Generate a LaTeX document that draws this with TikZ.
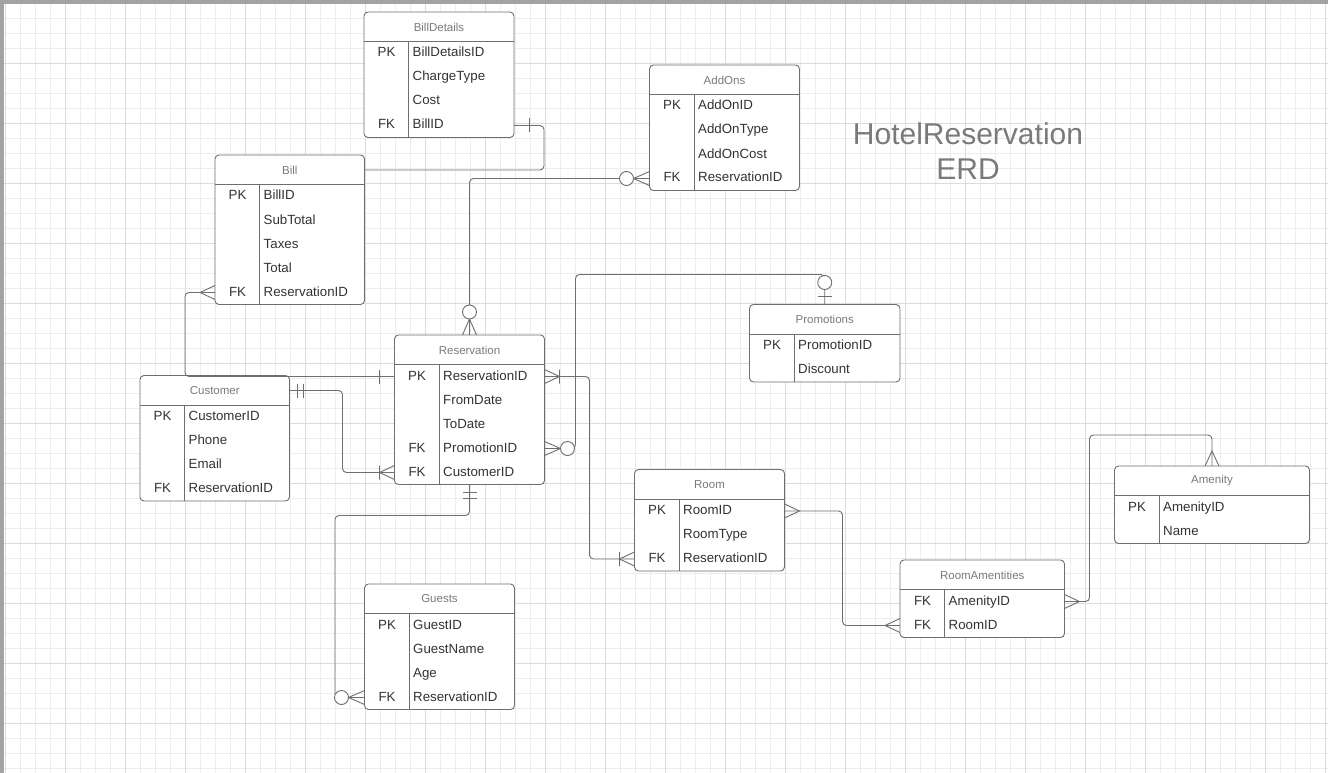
\documentclass[tikz,border=0pt]{standalone}
\usepackage{fontspec}
\setmainfont{Liberation Sans}
\usepackage{xcolor}
\definecolor{ERLine}{HTML}{6E6E6E}
\definecolor{ERText}{HTML}{333333}
\definecolor{ERHead}{HTML}{7A7A7A}
\definecolor{ERGridA}{HTML}{EDEDED}
\definecolor{ERGridB}{HTML}{DCDCDC}
\definecolor{ERFrame}{HTML}{A3A3A3}

% table: name, x, y, width, rows, title, key/field list
\newcommand{\erdtab}[7]{%
  \node[tbox,minimum width=#4pt,minimum height={(29.5+24*#5)*1pt}] (#1) at (#2,#3) {};
  \draw[tline] (#2,{#3+29.5}) -- ++(#4,0);
  \draw[tline] ({#2+44.5},{#3+29.5}) -- ({#2+44.5},{#3+29.5+24*#5});
  \node[thead] (#1-t) at ({#2+#4/2},{#3+15}) {#6};
  \foreach \k/\f [count=\i] in {#7} {
    \node[keyt] at ({#2+22.5},{#3+29.5+24*\i-12}) {\k};
    \node[fld] (#1-\i) at ({#2+48.5},{#3+29.5+24*\i-12}) {\f};
  }%
}

\begin{document}
\begin{tikzpicture}[x=1pt,y=-1pt,
  tbox/.style={draw=ERLine,line width=0.9pt,rounded corners=4pt,fill=white,inner sep=0pt,outer sep=0pt,anchor=north west},
  tline/.style={draw=ERLine,line width=0.9pt},
  thead/.style={text=ERHead,font=\fontsize{11.5}{13}\selectfont,inner sep=0pt},
  keyt/.style={text=ERText,font=\fontsize{13.3}{16}\selectfont,inner sep=0pt,text height=9.5pt,text depth=2.5pt},
  fld/.style={keyt,anchor=west},
  conn/.style={draw=ERLine,line width=0.9pt,rounded corners=4pt},
  mk/.style={draw=ERLine,line width=0.9pt},
  gminor/.style={draw=ERGridA,line width=0.8pt},
  gmajor/.style={draw=ERGridB,line width=0.8pt},
  erMany/.pic={\draw[mk] (0,-7) -- (15,0) -- (0,7);},
  erOne/.pic={\draw[mk] (15,-7) -- (15,7);},
  erOnlyOne/.pic={\draw[mk] (8,-7) -- (8,7) (14,-7) -- (14,7);},
  erOneMany/.pic={\draw[mk] (0,-7) -- (15,0) -- (0,7) (15,-7) -- (15,7);},
  erZeroMany/.pic={\draw[mk] (0,-7) -- (16,0) -- (0,7); \draw[mk,fill=white] (23,0) circle (7pt);},
  erZeroOne/.pic={\draw[mk] (8,-7) -- (8,7); \draw[mk,fill=white] (22,0) circle (7pt);}]
\useasboundingbox (0,0) rectangle (1328,773);
\fill[white] (0,0) rectangle (1328,773);
% grid paper
\foreach \gx in {5,20,...,1325} \draw[gminor] (\gx,0) -- (\gx,773);
\foreach \gy in {3,18,...,773} \draw[gminor] (0,\gy) -- (1328,\gy);
\foreach \gx in {5,65,...,1325} \draw[gmajor] (\gx,0) -- (\gx,773);
\foreach \gy in {3,63,...,773} \draw[gmajor] (0,\gy) -- (1328,\gy);
\fill[ERFrame] (0,0) rectangle (1328,4);
\fill[ERFrame] (0,0) rectangle (4,773);

\node[text=ERHead,align=center,font=\fontsize{30}{35}\selectfont] (title) at (968,151) {HotelReservation\\ERD};

% tables
\erdtab{bd}{364}{12}{150}{4}{BillDetails}{PK/BillDetailsID,{}/ChargeType,{}/Cost,FK/BillID}
\erdtab{bill}{215}{155}{149.5}{5}{Bill}{PK/BillID,{}/SubTotal,{}/Taxes,{}/Total,FK/ReservationID}
\erdtab{ao}{649.5}{65}{150}{4}{AddOns}{PK/AddOnID,{}/AddOnType,{}/AddOnCost,FK/ReservationID}
\erdtab{res}{394.5}{335}{150}{5}{Reservation}{PK/ReservationID,{}/FromDate,{}/ToDate,FK/PromotionID,FK/CustomerID}
\erdtab{cus}{140}{375.5}{149.5}{4}{Customer}{PK/CustomerID,{}/Phone,{}/Email,FK/ReservationID}
\erdtab{promo}{749.5}{304.5}{150.5}{2}{Promotions}{PK/PromotionID,{}/Discount}
\erdtab{room}{634.5}{469.5}{150}{3}{Room}{PK/RoomID,{}/RoomType,FK/ReservationID}
\erdtab{ra}{900}{560}{164.5}{2}{RoomAmentities}{FK/AmenityID,FK/RoomID}
\erdtab{am}{1114.5}{466}{195}{2}{Amenity}{PK/AmenityID,{}/Name}
\erdtab{gst}{364.5}{584}{150}{4}{Guests}{PK/GuestID,{}/GuestName,{}/Age,FK/ReservationID}

% relationships
\draw[conn] (bd.east |- bd-4) -- ++(30,0) |- (bill.east |- bill-t);
\draw[conn] (ao.west |- ao-4) -| (res.north);
\draw[conn] (bill.west |- bill-5) -- ++(-30,0) |- (res.west |- res-1);
\draw[conn] (cus.east |- cus-t) -- ++(53,0) |- (res.west |- res-5);
\draw[conn] (res.south) |- ++(-134.5,31) |- (gst.west |- gst-4);
\draw[conn] (res.east |- res-1) -- ++(45,0) |- (room.west |- room-3);
\draw[conn] (res.east |- res-4) -- ++(31,0) |- ([yshift=30pt]promo.north) -- (promo.north);
\draw[conn] (room.east |- room-1) -- ++(58,0) |- (ra.west |- ra-2);
\draw[conn] (ra.east |- ra-1) -- ++(25,0) |- ([yshift=31pt]am.north) -- (am.north);

% end marks
\pic at (bd.east |- bd-4) {erOne};
\pic[rotate=180] at (ao.west |- ao-4) {erZeroMany};
\pic[rotate=90] at (res.north) {erZeroMany};
\pic[rotate=180] at (bill.west |- bill-5) {erMany};
\pic[rotate=180] at (res.west |- res-1) {erOne};
\pic at (cus.east |- cus-t) {erOnlyOne};
\pic[rotate=180] at (res.west |- res-5) {erOneMany};
\pic[rotate=-90] at (res.south) {erOnlyOne};
\pic[rotate=180] at (gst.west |- gst-4) {erZeroMany};
\pic at (res.east |- res-1) {erOneMany};
\pic[rotate=180] at (room.west |- room-3) {erOneMany};
\pic at (res.east |- res-4) {erZeroMany};
\pic[rotate=90] at (promo.north) {erZeroOne};
\pic at (room.east |- room-1) {erMany};
\pic[rotate=180] at (ra.west |- ra-2) {erMany};
\pic at (ra.east |- ra-1) {erMany};
\pic[rotate=90] at (am.north) {erMany};
\end{tikzpicture}
\end{document}
